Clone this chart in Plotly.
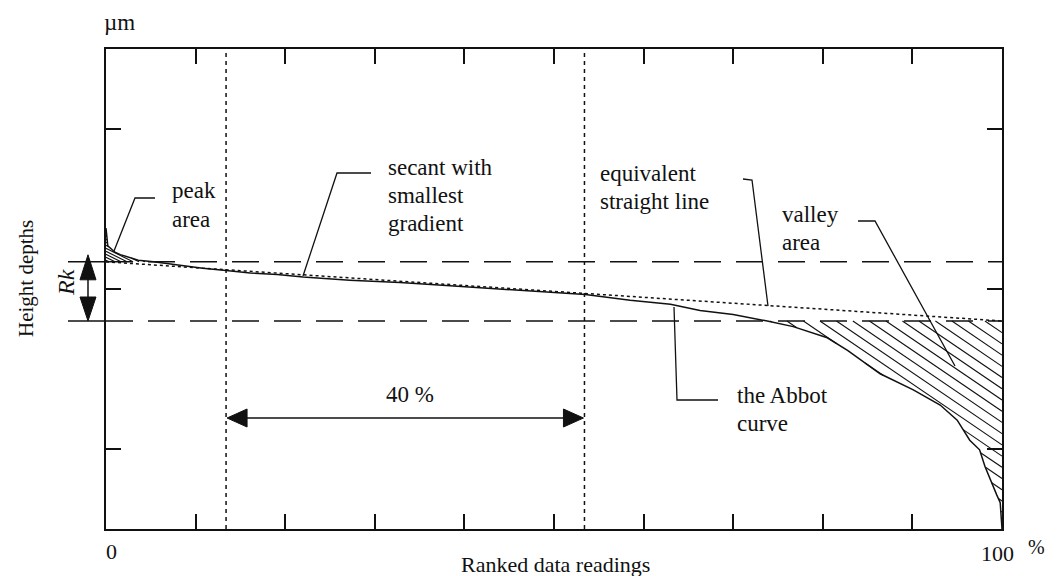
import numpy as np
import plotly.graph_objects as go

# ---------------- data ----------------
ranked_pct = [0, 0.2, 0.6, 1.0, 1.6, 2.5, 3.6, 5.3, 7.9, 10.8, 13.4, 16.1, 19.1, 22.0,
              27.2, 32.8, 38.4, 44.0, 49.6, 53.5, 58.5, 63.0, 66.3, 70.0, 73.8, 76.7,
              80.5, 82.8, 86.4, 90.1, 93.1, 95.0, 96.4, 97.5, 98.1, 98.7, 99.4, 99.8, 100]
abbott_height = [3.76, 3.54, 3.50, 3.46, 3.43, 3.40, 3.36, 3.34, 3.30, 3.26, 3.23, 3.20,
                 3.18, 3.15, 3.11, 3.08, 3.04, 3.00, 2.96, 2.93, 2.86, 2.81, 2.73, 2.68,
                 2.60, 2.53, 2.39, 2.23, 1.94, 1.74, 1.55, 1.36, 1.11, 0.99, 0.78, 0.61,
                 0.43, 0.33, 0.0]
rk_upper = 3.34
rk_lower = 2.60
equiv_x = [0, 100]
equiv_y = [rk_upper, rk_lower]
secant_window = [13.4, 53.4]
x_ticks = [10, 20, 30, 40, 50, 60, 70, 80, 90]
y_ticks = [1, 3, 5]
x_range = [0, 100]
y_range = [0, 6]

# ---------------- geometry of the plot area (pixels) ----------------
L, T, W, H = 106, 49, 896, 480
PX_X = W / (x_range[1] - x_range[0])
PX_Y = H / (y_range[1] - y_range[0])


def pxx(px):
    return (px - L) / W


def pxy(py):
    return (T + H - py) / H


FONT = "Liberation Serif, Times New Roman, serif"
BLACK = "#111111"


def hatch(x0, x1, top, bottom, spacing_px, slope_px):
    xs = np.linspace(x0, x1, 3000)
    tp = top(xs)
    bt = bottom(xs)
    k = -slope_px * PX_X / PX_Y
    db = slope_px * spacing_px / PX_Y
    bmin = np.min(bt - k * xs)
    bmax = np.max(tp - k * xs)
    hx, hy = [], []
    b = bmin + db / 2
    while b < bmax:
        yl = k * xs + b
        inside = (yl <= tp) & (yl >= bt)
        idx = np.where(inside)[0]
        if len(idx) > 1:
            runs = np.split(idx, np.where(np.diff(idx) > 1)[0] + 1)
            for r in runs:
                if len(r) > 1:
                    hx += [xs[r[0]], xs[r[-1]], None]
                    hy += [yl[r[0]], yl[r[-1]], None]
        b += db
    return hx, hy


curve = lambda x: np.interp(x, ranked_pct, abbott_height)
vx, vy = hatch(73.8, 100, lambda x: np.full_like(x, rk_lower), curve, 16.5, 0.68)
px_, py_ = hatch(0, 5.3, curve, lambda x: np.full_like(x, rk_upper), 6, 0.5)

fig = go.Figure()
fig.add_trace(go.Scatter(x=vx, y=vy, mode="lines", line=dict(color=BLACK, width=1.1),
                         hoverinfo="skip"))
fig.add_trace(go.Scatter(x=px_, y=py_, mode="lines", line=dict(color=BLACK, width=1.1),
                         hoverinfo="skip"))
fig.add_trace(go.Scatter(x=equiv_x, y=equiv_y, mode="lines",
                         line=dict(color=BLACK, width=1.5, dash="3px,3px")))
fig.add_trace(go.Scatter(x=ranked_pct, y=abbott_height, mode="lines",
                         line=dict(color=BLACK, width=1.5)))

shapes = []
# Rk dashed lines
for yv in (rk_upper, rk_lower):
    shapes.append(dict(type="line", xref="x", yref="y", x0=x_range[0], x1=x_range[1],
                       y0=yv, y1=yv, line=dict(color=BLACK, width=1.5, dash="27px,15px")))
    # solid stubs left of the axis
    yp = (yv - y_range[0]) / (y_range[1] - y_range[0])
    shapes.append(dict(type="line", xref="paper", yref="paper", x0=pxx(68), x1=0,
                       y0=yp, y1=yp, line=dict(color=BLACK, width=1.5)))
# secant window verticals
for xv in secant_window:
    shapes.append(dict(type="line", xref="x", yref="paper", x0=xv, x1=xv, y0=0, y1=1,
                       line=dict(color=BLACK, width=1.5, dash="4px,4px")))


def seg(points, width=1.3):
    path = "M " + " L ".join(f"{pxx(a):.5f},{pxy(b):.5f}" for a, b in points)
    shapes.append(dict(type="path", xref="paper", yref="paper", path=path,
                       line=dict(color=BLACK, width=width)))


def tri(points):
    path = "M " + " L ".join(f"{pxx(a):.5f},{pxy(b):.5f}" for a, b in points) + " Z"
    shapes.append(dict(type="path", xref="paper", yref="paper", path=path,
                       fillcolor=BLACK, line=dict(color=BLACK, width=1)))


# leader lines
seg([(155, 198), (135, 198), (114, 251)])
seg([(371, 173), (337, 173), (303, 276)])
seg([(743, 179), (752, 180), (768, 306)])
seg([(858, 221), (875, 221), (955, 366)])
seg([(718, 400), (677, 400), (674, 307)])

# Rk double arrow
rk_up_px = T + H - (rk_upper - y_range[0]) * PX_Y
rk_lo_px = T + H - (rk_lower - y_range[0]) * PX_Y
seg([(88, rk_up_px + 16), (88, rk_lo_px - 20)], 1.5)
tri([(88, rk_up_px - 7), (80, rk_up_px + 18), (96, rk_up_px + 18)])
tri([(88, rk_lo_px), (80, rk_lo_px - 24), (96, rk_lo_px - 24)])

# 40 % arrow
xa = L + secant_window[0] * PX_X
xb = L + secant_window[1] * PX_X
ya = 418
seg([(xa + 18, ya), (xb - 18, ya)], 1.5)
tri([(xa + 1, ya), (xa + 21, ya - 9), (xa + 21, ya + 9)])
tri([(xb - 1, ya), (xb - 21, ya - 9), (xb - 21, ya + 9)])

annotations = []


def ann(text, px, py, size=23, xanchor="left", angle=0):
    annotations.append(dict(text=text, x=pxx(px), y=pxy(py), xref="paper", yref="paper",
                            xanchor=xanchor, yanchor="middle", showarrow=False,
                            textangle=angle, font=dict(family=FONT, size=size, color=BLACK)))


ann("µm", 102, 23)
ann("peak", 170, 191)
ann("area", 170, 220)
ann("secant with", 386, 167)
ann("smallest", 386, 195)
ann("gradient", 386, 223)
ann("equivalent", 598, 173)
ann("straight line", 598, 201)
ann("valley", 780, 214)
ann("area", 780, 242)
ann("the Abbot", 735, 395)
ann("curve", 735, 423)
ann("40 %", 410, 394, xanchor="center")
ann("0", 111, 551, xanchor="center", size=22)
ann("100", 997, 553, xanchor="center", size=22)
ann("%", 1036, 547, xanchor="center", size=20)
ann("Ranked data readings", 555, 564, xanchor="center", size=22)
ann("Height depths", 26, 279, xanchor="center", size=21, angle=-90)
ann("<i>Rk</i>", 66, 283, xanchor="center", size=24, angle=-90)

axis_common = dict(showline=True, linecolor=BLACK, linewidth=1.5, mirror="ticks",
                   ticks="inside", ticklen=15, tickwidth=1.5, tickcolor=BLACK,
                   showticklabels=False, showgrid=False, zeroline=False)

fig.update_layout(
    width=1061, height=576,
    margin=dict(l=L, r=1061 - L - W, t=T, b=576 - T - H),
    paper_bgcolor="white", plot_bgcolor="white",
    showlegend=False,
    xaxis=dict(range=x_range, tickvals=x_ticks, **axis_common),
    yaxis=dict(range=y_range, tickvals=y_ticks, **axis_common),
    shapes=shapes, annotations=annotations,
)

fig.write_html("out.html", config={"displayModeBar": False},
               post_script="document.body.style.margin='0px';document.body.style.overflow='hidden';")
